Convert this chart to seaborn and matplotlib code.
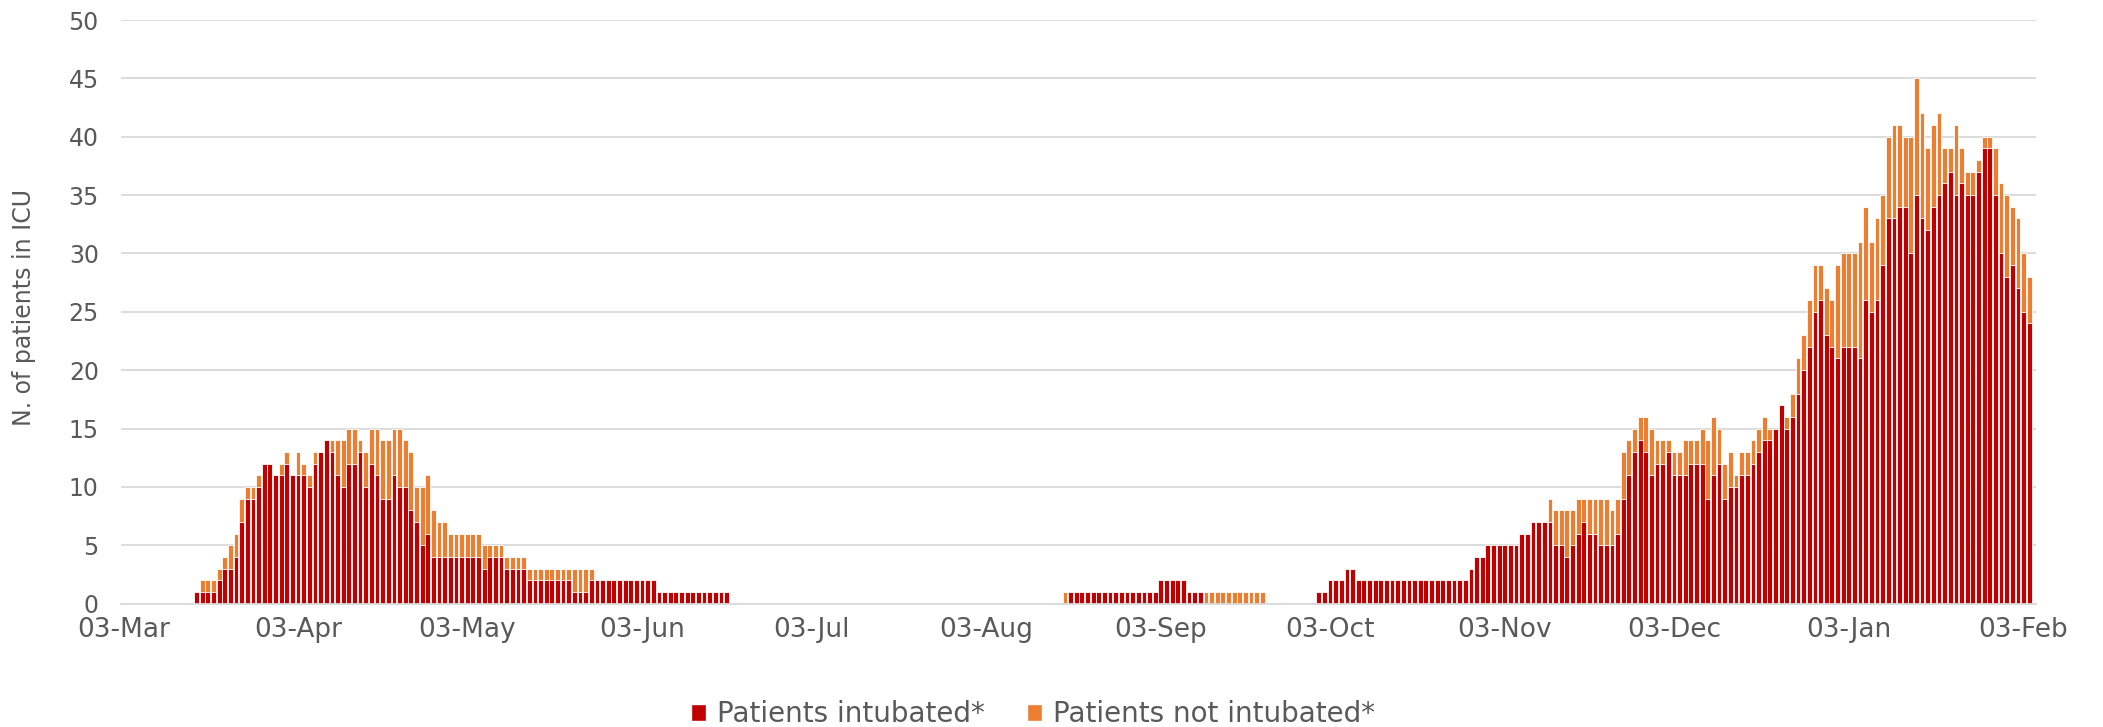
import pandas as pd
import matplotlib
matplotlib.use("Agg")
import matplotlib.pyplot as plt
from matplotlib.patches import Patch
import seaborn as sns

RED = "#C00000"
ORANGE = "#ED7D31"
GREY = "#595959"
GRID = "#D9D9D9"

# daily ICU census
# wave 1, starting 16 Mar 2020
wave1_start = "2020-03-16"
wave1_intubated = [1, 1, 1, 1, 2, 3, 3, 4, 7, 9, 9, 10, 12, 12, 11, 11, 12, 11, 11, 11,
                   10, 12, 13, 14, 13, 11, 10, 12, 12, 13, 10, 12, 11,
                   9, 9, 11, 10, 10, 8, 7, 5, 6, 4, 4, 4, 4, 4, 4, 4, 4, 4, 3, 4,
                   4, 4, 3, 3, 3, 3, 2, 2, 2, 2, 2, 2, 2, 2, 1, 1, 1, 2,
                   2, 2, 2, 2, 2, 2, 2, 2, 2, 2, 2,
                   1, 1, 1, 1, 1, 1, 1, 1, 1, 1, 1, 1, 1]
wave1_not_intubated = [0, 1, 1, 1, 1, 1, 2, 2, 2, 1, 1, 1, 0, 0, 0, 1, 1, 0, 2, 1,
                       1, 1, 0, 0, 1, 3, 4, 3, 3, 1, 3, 3, 4,
                       5, 5, 4, 5, 4, 5, 3, 5, 5, 4, 3, 3, 2, 2, 2, 2, 2, 2, 2, 1,
                       1, 1, 1, 1, 1, 1, 1, 1, 1, 1, 1, 1, 1, 1, 2, 2, 2, 1,
                       0, 0, 0, 0, 0, 0, 0, 0, 0, 0, 0,
                       0, 0, 0, 0, 0, 0, 0, 0, 0, 0, 0, 0, 0]

# summer, starting 17 Aug 2020
summer_start = "2020-08-17"
summer_intubated = [0, 1, 1, 1, 1, 1, 1, 1, 1, 1, 1, 1, 1, 1, 1, 1, 1,
                    2, 2, 2, 2, 2, 1, 1, 1,
                    0, 0, 0, 0, 0, 0, 0, 0, 0, 0, 0]
summer_not_intubated = [1, 0, 0, 0, 0, 0, 0, 0, 0, 0, 0, 0, 0, 0, 0, 0, 0,
                        0, 0, 0, 0, 0, 0, 0, 0,
                        1, 1, 1, 1, 1, 1, 1, 1, 1, 1, 1]

# wave 2, starting 1 Oct 2020
wave2_start = "2020-10-01"
wave2_intubated = [1, 1, 2, 2, 2, 3, 3, 2, 2, 2, 2, 2, 2, 2, 2, 2, 2, 2, 2, 2,
                   2, 2, 2, 2, 2, 2, 2, 3, 4, 4, 5, 5, 5, 5, 5, 5,
                   6, 6, 7, 7, 7, 7, 5, 5, 4, 5, 6, 7, 6, 6, 5, 5, 5, 6,
                   9, 11, 13, 14, 13, 11, 12, 12, 13, 11, 11, 11, 12, 12,
                   12, 9, 11, 12, 9, 10, 10, 11, 11, 12, 13, 14, 14, 15, 17, 15,
                   16, 18, 20, 22, 25, 26, 23, 22, 21, 22, 22, 22, 21, 26, 25, 26,
                   29, 33, 33, 34, 34, 30, 35, 33, 32, 34, 35, 36, 37, 35, 36, 35,
                   35, 37, 39, 39, 35, 30, 28, 29, 27, 25, 24]
wave2_not_intubated = [0, 0, 0, 0, 0, 0, 0, 0, 0, 0, 0, 0, 0, 0, 0, 0, 0, 0, 0, 0,
                       0, 0, 0, 0, 0, 0, 0, 0, 0, 0, 0, 0, 0, 0, 0, 0,
                       0, 0, 0, 0, 0, 2, 3, 3, 4, 3, 3, 2, 3, 3, 4, 4, 3, 3,
                       4, 3, 2, 2, 3, 4, 2, 2, 1, 2, 2, 3, 2, 2,
                       3, 5, 5, 3, 3, 3, 1, 2, 2, 2, 2, 2, 1, 0, 0, 1,
                       2, 3, 3, 4, 4, 3, 4, 4, 8, 8, 8, 8, 10, 8, 6, 7,
                       6, 7, 8, 7, 6, 10, 10, 9, 7, 7, 7, 3, 2, 6, 3, 2,
                       2, 1, 1, 1, 4, 6, 7, 5, 6, 5, 4]

# x labels sit on the 3rd of each month
tick_dates = pd.date_range("2020-03-01", "2021-02-01", freq="MS") + pd.Timedelta(days=2)

# -------------------------------
# BUILD DAILY TABLE
# -------------------------------
days = pd.date_range("2020-03-03", "2021-02-04", freq="D")
df = pd.DataFrame({"date": days, "intubated": 0, "not_intubated": 0})
for start, intub, notint in [(wave1_start, wave1_intubated, wave1_not_intubated),
                             (summer_start, summer_intubated, summer_not_intubated),
                             (wave2_start, wave2_intubated, wave2_not_intubated)]:
    idx = (pd.Timestamp(start) - days[0]).days
    df.loc[idx:idx + len(intub) - 1, "intubated"] = intub
    df.loc[idx:idx + len(notint) - 1, "not_intubated"] = notint
df["total"] = df["intubated"] + df["not_intubated"]
df["pos"] = range(len(df))

# -------------------------------
# PLOT
# -------------------------------
sns.set_theme(style="white")
plt.rcParams["font.family"] = ["DejaVu Sans"]

fig, ax = plt.subplots(figsize=(21.03, 7.27), dpi=100)
fig.subplots_adjust(left=121 / 2103, right=2036 / 2103, bottom=1 - 603.6 / 727, top=1 - 20 / 727)

# orange = total, red drawn over it -> stacked look
bar_kw = dict(x="pos", y="total", saturation=1, width=0.85, edgecolor="white",
              linewidth=0.6, errorbar=None, ax=ax)
sns.barplot(data=df, color=ORANGE, **bar_kw)
bar_kw["y"] = "intubated"
sns.barplot(data=df, color=RED, **bar_kw)

ax.set_axisbelow(True)
ax.set_ylim(0, 50)
ax.set_yticks(range(0, 51, 5))
ax.yaxis.grid(True, color=GRID, linewidth=1.3)
ax.set_xlim(-0.4, 339.2)

tick_pos = [(d - days[0]).days for d in tick_dates]
ax.set_xticks(tick_pos)
ax.set_xticklabels([d.strftime("%d-%b") for d in tick_dates])
ax.set_xlabel("")
ax.set_ylabel("")

for side in ["top", "right", "left"]:
    ax.spines[side].set_visible(False)
ax.spines["bottom"].set_color(GRID)
ax.spines["bottom"].set_linewidth(1.3)
ax.tick_params(axis="x", colors=GRID, labelcolor=GREY, labelsize=19, length=6,
               width=1.3, direction="out", pad=4)
ax.tick_params(axis="y", labelcolor=GREY, labelsize=17, length=0, pad=16)

fig.text(24 / 2103, 1 - 308 / 727, "N. of patients in ICU", rotation=90,
         ha="center", va="center", fontsize=17, color=GREY)

handles = [Patch(facecolor=RED, label="Patients intubated*"),
           Patch(facecolor=ORANGE, label="Patients not intubated*")]
fig.legend(handles=handles, loc="center", bbox_to_anchor=(1033 / 2103, 1 - 714 / 727),
           ncol=2, frameon=False, handlelength=0.55, handleheight=0.55,
           handletextpad=0.4, columnspacing=1.5, fontsize=20, labelcolor=GREY)

fig.savefig("out.png", dpi=100)
